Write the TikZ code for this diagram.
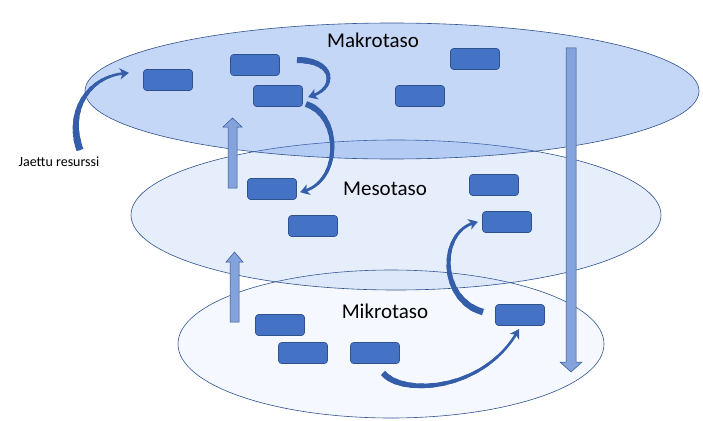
\documentclass[tikz,border=0pt]{standalone}
\usepackage{fontspec}
\setmainfont{Carlito}
\usetikzlibrary{arrows.meta,bending}
\definecolor{boxfill}{RGB}{68,114,196}
\definecolor{boxline}{RGB}{47,82,143}
\definecolor{ellfill}{RGB}{87,139,230}
\definecolor{blockfill}{RGB}{132,163,220}
\definecolor{curvecol}{RGB}{52,94,170}
\tikzset{
  box/.style={draw=boxline, line width=0.6pt, fill=boxfill, rounded corners=3pt, minimum width=49pt, minimum height=21pt, inner sep=0pt},
  level/.style={draw=boxline, line width=0.6pt, fill=ellfill},
  lbl/.style={font=\fontsize{21}{24}\selectfont, text=black},
  curvearrow/.style={draw=curvecol, -{Stealth[width=11pt,length=9pt,inset=2.5pt,bend]}},
  blockarrow/.style={draw=boxline, line width=0.5pt, fill=blockfill}
}
% #1 start, #2 control 1, #3 control 2, #4 end (coordinate names), #5 tail width, #6 head width
\newcommand\taperarc[6]{%
  \foreach \i in {0,...,11}{%
    \pgfmathsetmacro\ta{\i/15}%
    \pgfmathsetmacro\tb{(\i+1.5)/15}%
    \pgfmathsetmacro\wd{#5+(#6-#5)*\i/11}%
    \begin{pgfscope}%
      \pgfsetlinewidth{\wd pt}\pgfsetstrokecolor{curvecol}\pgfsetbuttcap
      \pgfpathcurvebetweentime{\ta}{\tb}{\pgfpointanchor{#1}{center}}{\pgfpointanchor{#2}{center}}{\pgfpointanchor{#3}{center}}{\pgfpointanchor{#4}{center}}%
      \pgfusepath{stroke}%
    \end{pgfscope}%
  }%
  \draw[curvearrow, line width=#6pt] (#1) .. controls (#2) and (#3) .. (#4);%
}
\begin{document}
\begin{tikzpicture}[x=1pt,y=-1pt]
\useasboundingbox (0,0) rectangle (703,420);
% levels
\path[level, fill opacity=0.06] (391,344) ellipse [x radius=213, y radius=74];
\path[level, fill opacity=0.15] (396,215) ellipse [x radius=265, y radius=75];
\path[level, fill opacity=0.35] (392,91) ellipse [x radius=307, y radius=68];
% labels
\node[lbl] (makro) at (373,40) {Makrotaso};
\node[lbl] (meso) at (385,189) {Mesotaso};
\node[lbl] (mikro) at (385,311) {Mikrotaso};
\node[font=\fontsize{14}{16}\selectfont, anchor=center] (jaettu) at (59,162) {Jaettu resurssi};
% block arrows
\path[blockarrow] (228,188) -- (228,127) -- (223,127) -- (232.5,118) -- (242,127) -- (237,127) -- (237,188) -- cycle;
\path[blockarrow] (230,322) -- (230,262) -- (226,262) -- (234.5,252) -- (243,262) -- (239,262) -- (239,322) -- cycle;
\path[blockarrow] (566,48) -- (566,362) -- (560,362) -- (571,372) -- (582,362) -- (576,362) -- (576,48) -- cycle;
% boxes
\node[box] (b1) at (168,80) {};
\node[box] (b2) at (255,65) {};
\node[box] (b3) at (278,96) {};
\node[box] (b4) at (475,59) {};
\node[box] (b5) at (420,96) {};
\node[box] (b6) at (272,189) {};
\node[box] (b7) at (313,226) {};
\node[box] (b8) at (494,185) {};
\node[box] (b9) at (507,222) {};
\node[box] (b10) at (520,315) {};
\node[box] (b11) at (280,325) {};
\node[box] (b12) at (303,353) {};
\node[box] (b13) at (375,353) {};
% curved arrows
\coordinate (t1) at (80,150);
\coordinate (c1a) at (66,112);
\coordinate (c1b) at (88,74);
\coordinate (h1) at (129,73);
\taperarc{t1}{c1a}{c1b}{h1}{7}{2.6}
\coordinate (t2) at (297,60);
\coordinate (c2a) at (336,60);
\coordinate (c2b) at (338,90);
\coordinate (h2) at (308,97);
\taperarc{t2}{c2a}{c2b}{h2}{6}{2.8}
\coordinate (t3) at (306,104);
\coordinate (c3a) at (342,115);
\coordinate (c3b) at (342,185);
\coordinate (h3) at (300,192);
\taperarc{t3}{c3a}{c3b}{h3}{6}{2.8}
\coordinate (t4) at (483,312);
\coordinate (c4a) at (438,300);
\coordinate (c4b) at (438,228);
\coordinate (h4) at (478,222);
\taperarc{t4}{c4a}{c4b}{h4}{6.5}{2.8}
\coordinate (t5) at (383,373);
\coordinate (c5a) at (402,396);
\coordinate (c5b) at (485,392);
\coordinate (h5) at (519,329);
\taperarc{t5}{c5a}{c5b}{h5}{6}{2.6}
\end{tikzpicture}
\end{document}
